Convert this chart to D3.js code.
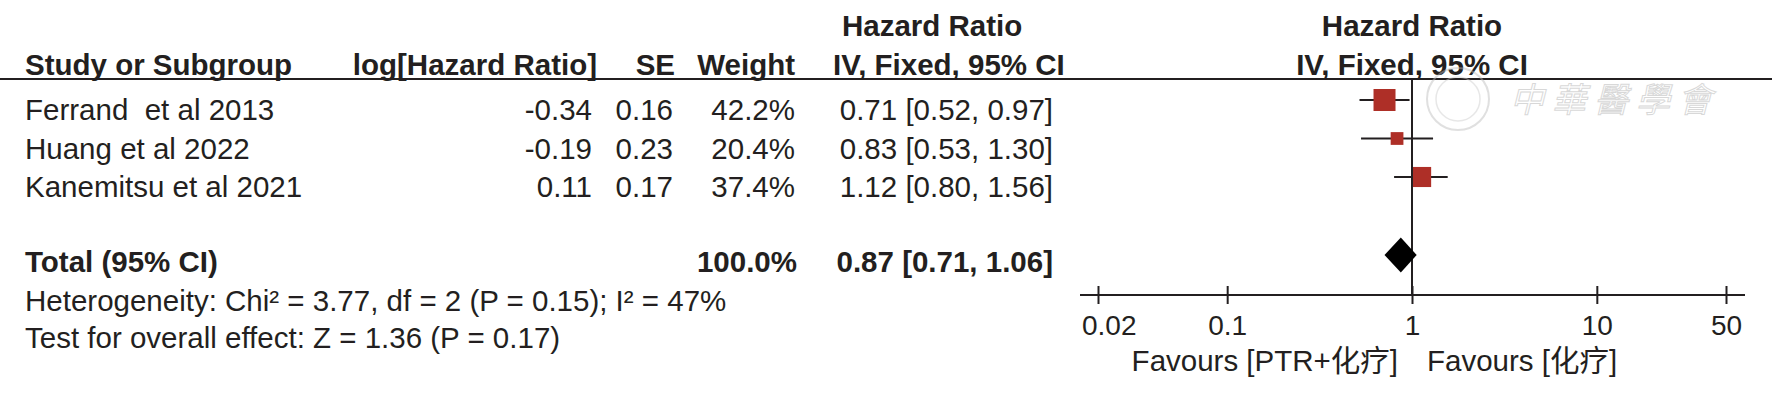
<!DOCTYPE html>

<head>
  <meta charset="utf-8">
  <script src="https://d3js.org/d3.v7.min.js"></script>
  <style>
    body {
      margin: 0;
      background: #fff;
    }

    text {
      font-family: "Liberation Sans", Arial, "Noto Sans CJK SC", sans-serif;
      font-size: 29.5px;
      fill: #231f20;
      white-space: pre;
    }

    .bold {
      font-weight: bold;
    }
  </style>
</head>

<body>

  <svg width="1772" height="393"></svg>

  <script>
    // study rows
    const studies = ["Ferrand  et al 2013", "Huang et al 2022", "Kanemitsu et al 2021"];
    const logHR = [-0.34, -0.19, 0.11];
    const se = [0.16, 0.23, 0.17];
    const weight = [42.2, 20.4, 37.4];
    const hr = [0.71, 0.83, 1.12];
    const ciLow = [0.52, 0.53, 0.80];
    const ciHigh = [0.97, 1.30, 1.56];

    // pooled estimate
    const totalWeight = 100.0;
    const totalHR = 0.87;
    const totalLow = 0.71;
    const totalHigh = 1.06;

    // heterogeneity / overall test
    const chi2 = 3.77, df = 2, pHet = 0.15, i2 = 47;
    const zValue = 1.36, pZ = 0.17;

    const axisTicks = [0.02, 0.1, 1, 10, 50];
    const favourLeft = "Favours [PTR+化疗]";
    const favourRight = "Favours [化疗]";

    const ink = "#231f20";
    const boxColor = "#ae2f27";

    const svg = d3.select("svg");

    const x = d3.scaleLog().domain([0.02, 50]).range([1098, 1726]);
    const row = d3.scaleLinear().domain([0, 1]).range([120, 158.5]); // text baselines
    const markShift = -20;
    const boxSize = d3.scalePow().exponent(0.75).domain([0, d3.max(weight)]).range([0, 22]);

    const headerY1 = 36, headerY2 = 75, ruleY = 79;
    const totalY = 272, axisY = 295;

    const f2 = v => v.toFixed(2);
    const ciText = (m, l, h) => `${f2(m)} [${f2(l)}, ${f2(h)}]`;

    // ---- header ----
    const head = svg.append("g").attr("class", "bold");
    head.append("text").attr("x", 25).attr("y", headerY2).text("Study or Subgroup");
    head.append("text").attr("x", 597).attr("y", headerY2).attr("text-anchor", "end").text("log[Hazard Ratio]");
    head.append("text").attr("x", 675).attr("y", headerY2).attr("text-anchor", "end").text("SE");
    head.append("text").attr("x", 795).attr("y", headerY2).attr("text-anchor", "end").text("Weight");
    head.append("text").attr("x", 842).attr("y", headerY1).text("Hazard Ratio");
    head.append("text").attr("x", 833).attr("y", headerY2).text("IV, Fixed, 95% CI");
    head.append("text").attr("x", x(1)).attr("y", headerY1).attr("text-anchor", "middle").text("Hazard Ratio");
    head.append("text").attr("x", x(1)).attr("y", headerY2).attr("text-anchor", "middle").text("IV, Fixed, 95% CI");

    svg.append("line")
      .attr("x1", 0).attr("x2", 1772)
      .attr("y1", ruleY).attr("y2", ruleY)
      .attr("stroke", ink).attr("stroke-width", 2.2);

    // watermark
    const wm = svg.append("g").attr("opacity", 0.45);
    wm.append("circle").attr("cx", 1458).attr("cy", 99).attr("r", 31)
      .attr("fill", "none").attr("stroke", "#bbb").attr("stroke-width", 2);
    wm.append("circle").attr("cx", 1458).attr("cy", 99).attr("r", 22)
      .attr("fill", "none").attr("stroke", "#ccc").attr("stroke-width", 1.5);
    wm.append("text").attr("x", 1510).attr("y", 112)
      .style("font-family", "'Noto Sans CJK SC'").style("font-size", "34px")
      .style("font-style", "italic").style("letter-spacing", "8px")
      .style("fill", "#fff").style("stroke", "#aaa").style("stroke-width", 1)
      .text("中華醫學會");

    // ---- study rows ----
    const rows = svg.selectAll("g.row")
      .data(studies)
      .join("g")
      .attr("class", "row");

    rows.append("text").attr("x", 25).attr("y", (d, i) => row(i)).text(d => d);
    rows.append("text").attr("x", 592).attr("y", (d, i) => row(i)).attr("text-anchor", "end")
      .text((d, i) => f2(logHR[i]));
    rows.append("text").attr("x", 673).attr("y", (d, i) => row(i)).attr("text-anchor", "end")
      .text((d, i) => f2(se[i]));
    rows.append("text").attr("x", 795).attr("y", (d, i) => row(i)).attr("text-anchor", "end")
      .text((d, i) => weight[i].toFixed(1) + "%");
    rows.append("text").attr("x", 1053).attr("y", (d, i) => row(i)).attr("text-anchor", "end")
      .text((d, i) => ciText(hr[i], ciLow[i], ciHigh[i]));

    // line of no effect
    svg.append("line")
      .attr("x1", x(1)).attr("x2", x(1))
      .attr("y1", ruleY).attr("y2", axisY)
      .attr("stroke", ink).attr("stroke-width", 2);

    rows.append("line")
      .attr("x1", (d, i) => x(ciLow[i])).attr("x2", (d, i) => x(ciHigh[i]))
      .attr("y1", (d, i) => row(i) + markShift).attr("y2", (d, i) => row(i) + markShift)
      .attr("stroke", ink).attr("stroke-width", 2);

    rows.append("rect")
      .attr("x", (d, i) => x(hr[i]) - boxSize(weight[i]) / 2)
      .attr("y", (d, i) => row(i) + markShift - boxSize(weight[i]) / 2)
      .attr("width", (d, i) => boxSize(weight[i]))
      .attr("height", (d, i) => boxSize(weight[i]))
      .attr("fill", boxColor);

    // ---- total ----
    const tot = svg.append("g").attr("class", "bold");
    tot.append("text").attr("x", 25).attr("y", totalY).text("Total (95% CI)");
    tot.append("text").attr("x", 797).attr("y", totalY).attr("text-anchor", "end")
      .text(totalWeight.toFixed(1) + "%");
    tot.append("text").attr("x", 1053).attr("y", totalY).attr("text-anchor", "end")
      .text(ciText(totalHR, totalLow, totalHigh));

    const dy = totalY - 17, dh = 17.5;
    svg.append("path")
      .attr("d", d3.line()([
        [x(totalLow), dy], [x(totalHR), dy - dh], [x(totalHigh), dy], [x(totalHR), dy + dh]
      ]) + "Z")
      .attr("fill", "#000");

    svg.append("text").attr("x", 25).attr("y", 311)
      .text(`Heterogeneity: Chi² = ${chi2.toFixed(2)}, df = ${df} (P = ${pHet.toFixed(2)}); I² = ${i2}%`);
    svg.append("text").attr("x", 25).attr("y", 348)
      .text(`Test for overall effect: Z = ${zValue.toFixed(2)} (P = ${pZ.toFixed(2)})`);

    // ---- axis ----
    const axisG = svg.append("g")
      .attr("transform", `translate(0,${axisY})`)
      .call(d3.axisBottom(x).tickValues(axisTicks).tickFormat(d => d).tickSizeOuter(0).tickPadding(0));

    axisG.select(".domain").remove();
    axisG.selectAll(".tick line")
      .attr("y1", -9).attr("y2", 9)
      .attr("stroke", ink).attr("stroke-width", 2);
    axisG.selectAll(".tick text")
      .attr("y", 40).attr("dy", null)
      .style("font-size", "28px")
      .attr("fill", ink);

    const axisStart = x.range()[0] - 18, axisEnd = x.range()[1] + 19;
    axisG.append("line")
      .attr("x1", axisStart).attr("x2", axisEnd)
      .attr("stroke", ink).attr("stroke-width", 2.2);

    // keep end labels inside the axis line
    axisG.selectAll(".tick text").each(function () {
      const t = d3.select(this);
      const w = this.getComputedTextLength();
      const tx = d3.select(this.parentNode).attr("transform").match(/translate\(([-\d.]+)/)[1];
      const left = +tx - w / 2;
      if (left < axisStart) t.attr("x", axisStart + 2 - left);
    });

    svg.append("text").attr("x", x(1) - 14).attr("y", 371).attr("text-anchor", "end").text(favourLeft);
    svg.append("text").attr("x", x(1) + 15).attr("y", 371).text(favourRight);

  </script>
</body>
